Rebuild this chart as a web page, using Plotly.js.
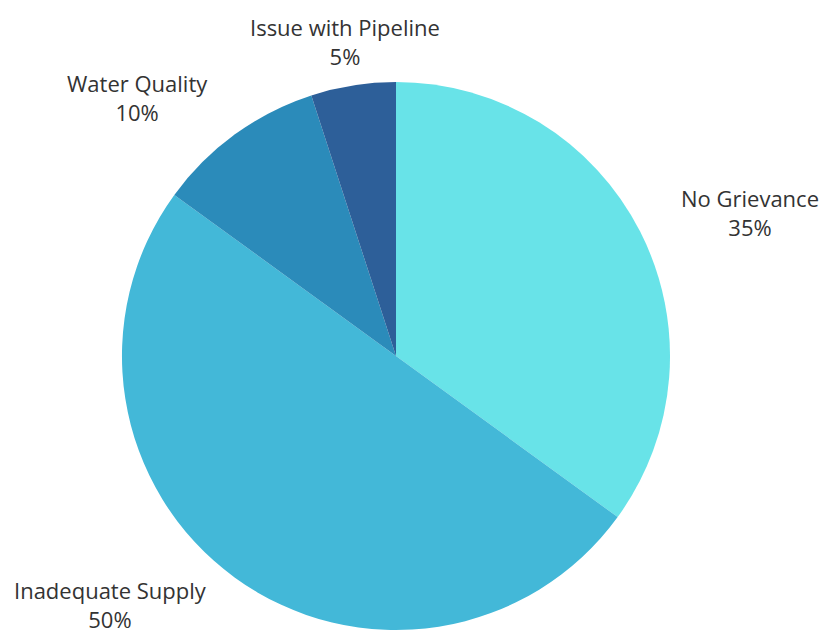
<!DOCTYPE html>
<html>
<head>
<meta charset="utf-8">
<script src="https://cdn.plot.ly/plotly-3.0.1.min.js"></script>
<style>html,body{margin:0;padding:0;background:#fff;}#chart{width:823px;height:638px;}</style>
</head>
<body>
<div id="chart"></div>
<script>
const categories = ["No Grievance", "Inadequate Supply", "Water Quality", "Issue with Pipeline"];
const values = [35, 50, 10, 5];
const colors = ["#68E3E8", "#43B8D8", "#2B8BBA", "#2D5F99"];

// label placement (paper coordinates) for each category's outside label
const labelPos = [
  {x: 0.9113, y: 0.6677},
  {x: 0.1337, y: 0.0530},
  {x: 0.1665, y: 0.8464},
  {x: 0.4192, y: 0.9350}
];

const total = values.reduce((a, b) => a + b, 0);

const trace = {
  type: "pie",
  labels: categories,
  values: values,
  sort: false,
  direction: "clockwise",
  rotation: 0,
  marker: {colors: colors, line: {width: 0}},
  textinfo: "none",
  hoverinfo: "label+percent",
  domain: {x: [0.1482, 0.8141], y: [0.0125, 0.8715]},
  showlegend: false
};

const annotations = categories.map((c, i) => ({
  xref: "paper", yref: "paper",
  x: labelPos[i].x, y: labelPos[i].y,
  xanchor: "center", yanchor: "middle",
  showarrow: false,
  align: "center",
  text: c + "<br>" + Math.round(values[i] / total * 100) + "%",
  font: {family: "Open Sans, sans-serif", size: 22, color: "#333333"}
}));

const layout = {
  width: 823,
  height: 638,
  margin: {l: 0, r: 0, t: 0, b: 0},
  paper_bgcolor: "#ffffff",
  plot_bgcolor: "#ffffff",
  showlegend: false,
  font: {family: "Open Sans, sans-serif", color: "#333333"},
  annotations: annotations
};

Plotly.newPlot("chart", [trace], layout, {displayModeBar: false, staticPlot: true});
</script>
</body>
</html>
